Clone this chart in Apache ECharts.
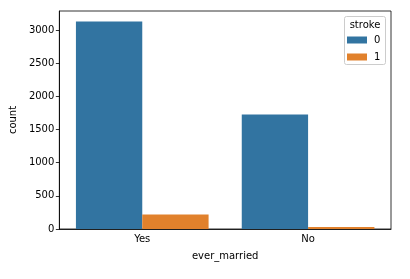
<!DOCTYPE html>
<html><head><meta charset="utf-8">
<script src="https://cdn.jsdelivr.net/npm/echarts@6/dist/echarts.min.js"></script>
<style>html,body{margin:0;padding:0;background:#fff}#c{width:410px;height:279px}</style>
</head><body><div id="c"></div>
<script>
const categories = ['Yes', 'No'];
const stroke0 = [3133, 1728];
const stroke1 = [220, 29];
const seriesNames = ['0', '1'];
const yTicks = [0, 500, 1000, 1500, 2000, 2500, 3000];

const chart = echarts.init(document.getElementById('c'));
const font = 'DejaVu Sans';
chart.setOption({
  animation: false,
  textStyle: {fontFamily: font},
  grid: {left: 56, right: 19, top: 11, bottom: 50, show: true, borderColor: '#000', borderWidth: 0.8, backgroundColor: 'transparent'},
  xAxis: {
    type: 'category', data: categories,
    axisLine: {lineStyle: {color: '#000', width: 0.8}},
    axisTick: {alignWithLabel: true, length: 3.5, lineStyle: {color: '#000', width: 0.8}},
    axisLabel: {color: '#000', fontSize: 10, fontFamily: font, margin: 5},
    name: 'ever_married', nameLocation: 'middle', nameGap: 22,
    nameTextStyle: {color: '#000', fontSize: 10, fontFamily: font}
  },
  yAxis: {
    type: 'value', min: 0, max: 3290, interval: 500,
    splitLine: {show: false},
    axisLine: {show: true, lineStyle: {color: '#000', width: 0.8}},
    axisTick: {show: true, length: 3.5, lineStyle: {color: '#000', width: 0.8}},
    axisLabel: {color: '#000', fontSize: 10, fontFamily: font, margin: 5, showMaxLabel: false,
      formatter: v => yTicks.includes(v) ? String(v) : ''},
    name: 'count', nameLocation: 'middle', nameGap: 38, nameRotate: 90,
    nameTextStyle: {color: '#000', fontSize: 10, fontFamily: font}
  },
  legend: {
    orient: 'vertical', left: 347, top: 35, padding: 0, itemWidth: 20, itemHeight: 7, itemGap: 7,
    data: seriesNames,
    textStyle: {color: '#000', fontSize: 10, fontFamily: font, padding: [0, 0, 0, 2]},
    icon: 'rect'
  },
  graphic: [
    {type: 'rect', shape: {x: 344.5, y: 16.5, width: 41, height: 48, r: 2}, style: {fill: 'rgba(255,255,255,0.8)', stroke: '#ccc', lineWidth: 1}, z: 0},
    {type: 'text', style: {x: 365, y: 20, text: 'stroke', textAlign: 'center', fill: '#000', fontSize: 10, fontFamily: font}, z: 1}
  ],
  series: [
    {name: seriesNames[0], type: 'bar', data: stroke0, barGap: '0%', barCategoryGap: '20%', itemStyle: {color: '#3274a1'}},
    {name: seriesNames[1], type: 'bar', data: stroke1, itemStyle: {color: '#e1812c'}}
  ]
});
</script></body></html>
